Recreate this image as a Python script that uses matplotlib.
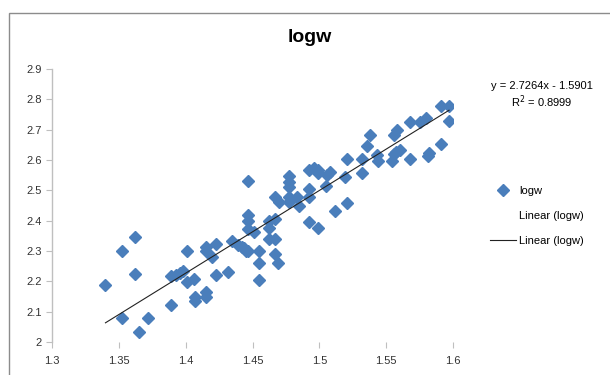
import matplotlib
matplotlib.use("Agg")
import matplotlib.pyplot as plt
from matplotlib.patches import Rectangle
from matplotlib.lines import Line2D
import numpy as np

# Data
x_vals = [1.340, 1.352, 1.362, 1.362, 1.352, 1.365, 1.372, 1.389, 1.389, 1.393,
          1.396, 1.398, 1.401, 1.401, 1.406, 1.407, 1.407, 1.415, 1.415, 1.415,
          1.415, 1.420, 1.423, 1.423, 1.432, 1.435, 1.439, 1.442, 1.445, 1.447,
          1.447, 1.447, 1.447, 1.447, 1.451, 1.455, 1.455, 1.455, 1.462, 1.462,
          1.462, 1.467, 1.467, 1.467, 1.469, 1.467, 1.470, 1.477, 1.477, 1.477,
          1.477, 1.477, 1.483, 1.485, 1.492, 1.492, 1.492, 1.492, 1.496, 1.499,
          1.499, 1.499, 1.506, 1.505, 1.508, 1.512, 1.519, 1.521, 1.521, 1.532,
          1.532, 1.536, 1.538, 1.543, 1.544, 1.554, 1.556, 1.557, 1.558, 1.560,
          1.568, 1.568, 1.575, 1.580, 1.581, 1.582, 1.591, 1.591, 1.597, 1.597,
          1.556, 1.444]
y_vals = [2.188, 2.301, 2.345, 2.223, 2.079, 2.033, 2.079, 2.123, 2.216, 2.221,
          2.227, 2.234, 2.301, 2.199, 2.209, 2.147, 2.134, 2.147, 2.164, 2.312,
          2.299, 2.279, 2.323, 2.221, 2.232, 2.334, 2.321, 2.314, 2.301, 2.299,
          2.532, 2.418, 2.399, 2.373, 2.362, 2.301, 2.261, 2.205, 2.399, 2.375,
          2.338, 2.338, 2.405, 2.290, 2.260, 2.479, 2.462, 2.547, 2.529, 2.510,
          2.477, 2.460, 2.479, 2.449, 2.568, 2.505, 2.477, 2.397, 2.575, 2.568,
          2.377, 2.558, 2.551, 2.514, 2.560, 2.432, 2.545, 2.603, 2.458, 2.603,
          2.558, 2.647, 2.684, 2.618, 2.597, 2.597, 2.682, 2.627, 2.699, 2.632,
          2.725, 2.603, 2.725, 2.740, 2.614, 2.623, 2.777, 2.653, 2.777, 2.729,
          2.620, 2.310]

slope = 2.7264
intercept = -1.5901
r2 = 0.8999

x_ticks = [1.3, 1.35, 1.4, 1.45, 1.5, 1.55, 1.6]
x_labels = ['1.3', '1.35', '1.4', '1.45', '1.5', '1.55', '1.6']
y_ticks = [2.0, 2.1, 2.2, 2.3, 2.4, 2.5, 2.6, 2.7, 2.8, 2.9]
y_labels = ['2', '2.1', '2.2', '2.3', '2.4', '2.5', '2.6', '2.7', '2.8', '2.9']

plt.rcParams['font.family'] = ['Liberation Sans', 'DejaVu Sans']

W, H = 610, 375
fig = plt.figure(figsize=(W / 100, H / 100), dpi=100)

# outer chart border (cropped at right and bottom)
fig.patches.append(Rectangle((9 / W, -0.1), 1.2, 1 - 13 / H + 0.1, transform=fig.transFigure,
                             fill=False, edgecolor='#8c8c8c', linewidth=1.0))

ax = fig.add_axes([52 / W, 1 - 342 / H, (453 - 52) / W, (342 - 69) / H])

ax.plot(x_vals, y_vals, linestyle='none', marker='D', markersize=5.8,
        color='#4a7ebb', markeredgecolor='#4a7ebb')

xs = np.array([min(x_vals), max(x_vals)])
ax.plot(xs, slope * xs + intercept, color='#222222', linewidth=0.8)

ax.set_xlim(1.3, 1.6)
ax.set_ylim(2.0, 2.9)
ax.set_xticks(x_ticks)
ax.set_xticklabels(x_labels)
ax.set_yticks(y_ticks)
ax.set_yticklabels(y_labels)
ax.tick_params(labelsize=8, colors='#333333', length=4, width=0.8)
ax.tick_params(axis='both', color='#bfbfbf')
ax.tick_params(axis='x', pad=6)

for s in ['top', 'right', 'bottom']:
    ax.spines[s].set_visible(False)
ax.spines['left'].set_color('#bfbfbf')
ax.spines['left'].set_linewidth(1.0)

fig.text(310 / W, 1 - 37 / H, 'logw', ha='center', va='center',
         fontsize=14, fontweight='bold')

fig.text(542 / W, 1 - 86 / H, 'y = 2.7264x - 1.5901', ha='center', va='center', fontsize=8)
fig.text(542 / W, 1 - 102 / H, 'R$^2$ = 0.8999', ha='center', va='center', fontsize=8)

handles = [
    Line2D([], [], linestyle='none', marker='D', markersize=5.8, color='#4a7ebb'),
    Line2D([], [], color='white', linewidth=1.0),
    Line2D([], [], color='#222222', linewidth=0.8),
]
labels = ['logw', 'Linear (logw)', 'Linear (logw)']
fig.legend(handles, labels, loc='center left', bbox_to_anchor=(480 / W, 1 - 216 / H),
           frameon=False, fontsize=8, handlelength=2.3, labelspacing=1.35, handletextpad=0.3)

fig.savefig('out.png', dpi=100)
